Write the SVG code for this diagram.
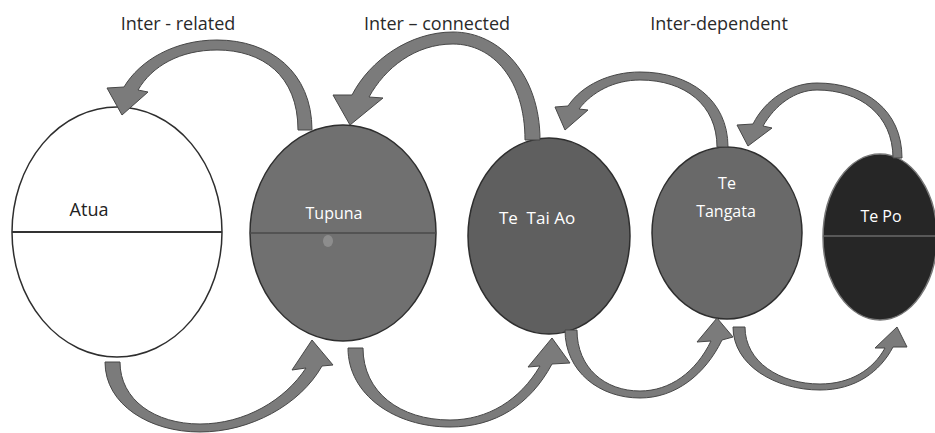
<svg xmlns="http://www.w3.org/2000/svg" width="935" height="433" viewBox="0 0 935 433">
<style>
.lbl{font-family:"Open Sans","Liberation Sans",sans-serif;font-size:18px;fill:#2a2a2a;text-anchor:middle}
.nl{font-family:"Open Sans","Liberation Sans",sans-serif;font-size:16px;fill:#ffffff;text-anchor:middle}
.arr{fill:#7b7b7b;stroke:#474747;stroke-width:1;stroke-linejoin:round}
.node{stroke:#2e2e2e;stroke-width:1.5}
</style>
<rect width="935" height="433" fill="#ffffff"/>
<g id="atua">
<ellipse class="node" cx="117" cy="232" rx="105" ry="125" fill="#ffffff"/>
<line x1="12" y1="232" x2="222" y2="232" stroke="#333" stroke-width="2"/>
<text class="nl" x="89" y="216" style="fill:#222;font-size:18px">Atua</text>
</g>
<g id="tupuna">
<ellipse class="node" cx="343" cy="233" rx="93" ry="108" fill="#707070"/>
<line x1="250" y1="233" x2="436" y2="233" stroke="#4a4a4a" stroke-width="1.5"/>
<ellipse cx="328" cy="241" rx="5" ry="6" fill="#9a9a9a" opacity="0.7"/>
<text class="nl" x="334" y="219">Tupuna</text>
</g>
<g id="te-tai-ao">
<ellipse class="node" cx="549" cy="236" rx="81" ry="98" fill="#5f5f5f"/>
<text class="nl" x="537" y="224" style="font-size:17px" xml:space="preserve">Te  Tai Ao</text>
</g>
<g id="te-tangata">
<ellipse class="node" cx="727" cy="233" rx="75" ry="86" fill="#696969"/>
<text class="nl" x="727" y="189">Te</text>
<text class="nl" x="726" y="217">Tangata</text>
</g>
<g id="te-po">
<ellipse cx="880" cy="237" rx="57" ry="83" fill="#262626" stroke="#777" stroke-width="1.5"/>
<line x1="824" y1="236" x2="935" y2="236" stroke="#8a8a8a" stroke-width="1.2"/>
<text class="nl" x="881" y="222">Te Po</text>
</g>
<g id="connectors">
<path class="arr" d="M312,130 C312,72 270,40 217,40 C175,40 140,60 124,87 L107,88 L122,115 L148,92 L138,90 C152,66 180,50 217,50 C262,50 298,75 298,130 Z"/>
<path class="arr" d="M540,140 C540,75 500,32 453,32 C410,32 370,60 352,95 L333,95 L350,125 L383,98 L369,97 C385,68 415,44 453,44 C493,44 525,80 525,140 Z"/>
<path class="arr" d="M728,147 C728,100 690,72 640,72 C610,72 582,85 568,106 L555,107 L565,130 L588,110 L579,109 C592,92 614,80 640,80 C685,80 717,105 717,147 Z"/>
<path class="arr" d="M902,158 C902,110 865,83 817,83 C790,83 765,100 753,124 L737,125 L748,146 L772,128 L763,126 C775,105 795,90 817,90 C860,90 893,115 893,158 Z"/>
<path class="arr" d="M105,362 C105,405 150,432 200,432 C250,432 300,405 322,366 L333,365 L312,340 L292,370 L306,368 C285,400 245,424 200,424 C155,424 120,400 120,362 Z"/>
<path class="arr" d="M348,348 C348,395 395,427 450,427 C495,427 530,405 552,364 L570,363 L552,338 L528,367 L540,366 C520,400 488,420 450,420 C400,420 363,392 363,348 Z"/>
<path class="arr" d="M565,330 C565,372 600,398 640,398 C675,398 705,375 722,340 L733,337 L717,318 L697,342 L711,341 C696,372 670,391 640,391 C605,391 577,368 577,330 Z"/>
<path class="arr" d="M733,327 C733,365 775,390 820,390 C855,390 880,372 893,347 L907,347 L897,327 L875,348 L885,348 C873,370 850,384 820,384 C780,384 745,362 745,327 Z"/>
</g>
<text class="lbl" x="178" y="30">Inter - related</text>
<text class="lbl" x="437" y="30">Inter – connected</text>
<text class="lbl" x="719" y="30">Inter-dependent</text>
</svg>
